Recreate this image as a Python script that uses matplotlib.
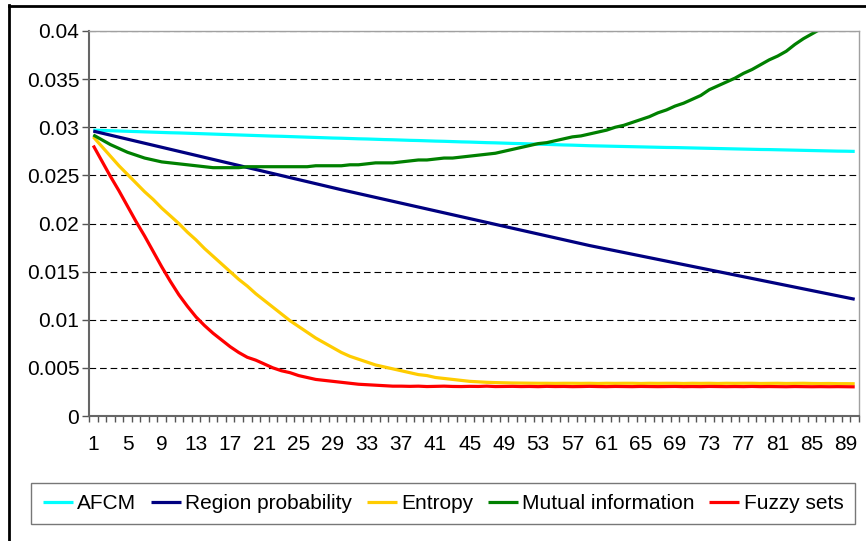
import numpy as np
import matplotlib.pyplot as plt
from matplotlib.lines import Line2D

plt.rcParams['font.family'] = ['Liberation Sans', 'DejaVu Sans']

steps = list(range(1, 91))

afcm = [0.02970, 0.02967, 0.02964, 0.02961, 0.02958, 0.02955, 0.02952, 0.02949, 0.02946, 0.02943,
        0.02941, 0.02938, 0.02935, 0.02932, 0.02929, 0.02926, 0.02923, 0.02920, 0.02917, 0.02914,
        0.02911, 0.02908, 0.02906, 0.02903, 0.02900, 0.02897, 0.02894, 0.02891, 0.02888, 0.02886,
        0.02883, 0.02880, 0.02878, 0.02875, 0.02872, 0.02870, 0.02867, 0.02864, 0.02862, 0.02859,
        0.02856, 0.02854, 0.02851, 0.02848, 0.02846, 0.02843, 0.02840, 0.02838, 0.02835, 0.02832,
        0.02830, 0.02827, 0.02824, 0.02822, 0.02819, 0.02816, 0.02814, 0.02811, 0.02808, 0.02806,
        0.02804, 0.02802, 0.02800, 0.02798, 0.02796, 0.02794, 0.02792, 0.02790, 0.02789, 0.02787,
        0.02785, 0.02783, 0.02781, 0.02779, 0.02777, 0.02775, 0.02773, 0.02771, 0.02769, 0.02768,
        0.02766, 0.02764, 0.02762, 0.02760, 0.02758, 0.02756, 0.02754, 0.02752, 0.02751, 0.02749]

region_prob = [0.02960, 0.02939, 0.02918, 0.02897, 0.02876, 0.02855, 0.02834, 0.02813, 0.02792, 0.02771,
               0.02750, 0.02729, 0.02708, 0.02687, 0.02666, 0.02645, 0.02624, 0.02603, 0.02582, 0.02561,
               0.02540, 0.02519, 0.02498, 0.02477, 0.02456, 0.02435, 0.02414, 0.02393, 0.02372, 0.02351,
               0.02331, 0.02311, 0.02291, 0.02271, 0.02251, 0.02231, 0.02211, 0.02191, 0.02171, 0.02151,
               0.02131, 0.02111, 0.02091, 0.02071, 0.02051, 0.02031, 0.02011, 0.01991, 0.01971, 0.01951,
               0.01931, 0.01911, 0.01891, 0.01871, 0.01851, 0.01831, 0.01811, 0.01791, 0.01771, 0.01753,
               0.01735, 0.01717, 0.01699, 0.01681, 0.01663, 0.01645, 0.01627, 0.01609, 0.01591, 0.01573,
               0.01555, 0.01537, 0.01519, 0.01501, 0.01483, 0.01465, 0.01447, 0.01429, 0.01411, 0.01393,
               0.01375, 0.01357, 0.01339, 0.01321, 0.01303, 0.01285, 0.01267, 0.01249, 0.01231, 0.01213]

entropy = [0.0290, 0.0280, 0.0270, 0.0260, 0.0251, 0.0242, 0.0233, 0.0225, 0.0216, 0.0208,
           0.0200, 0.0191, 0.0183, 0.0174, 0.0166, 0.0158, 0.0150, 0.0142, 0.0135, 0.0127,
           0.0120, 0.0113, 0.0106, 0.0099, 0.0093, 0.0087, 0.0081, 0.0076, 0.0071, 0.0066,
           0.0062, 0.0059, 0.0056, 0.0053, 0.0051, 0.0049, 0.0047, 0.0045, 0.0043, 0.0042,
           0.0040, 0.0039, 0.0038, 0.0037, 0.0036, 0.00355, 0.0035, 0.00347, 0.00345, 0.00343,
           0.00342, 0.00341, 0.0034, 0.0034, 0.00339, 0.0034, 0.0034, 0.00339, 0.0034, 0.00338,
           0.0034, 0.00339, 0.0034, 0.0034, 0.00338, 0.0034, 0.00339, 0.0034, 0.0034, 0.00338,
           0.0034, 0.00339, 0.0034, 0.00338, 0.0034, 0.00339, 0.0034, 0.0034, 0.00338, 0.00339,
           0.0034, 0.00338, 0.00339, 0.0034, 0.00338, 0.00337, 0.00338, 0.00336, 0.00336, 0.00335]

mutual_info = [0.0292, 0.0287, 0.0282, 0.0278, 0.0274, 0.0271, 0.0268, 0.0266, 0.0264, 0.0263,
               0.0262, 0.0261, 0.0260, 0.0259, 0.0258, 0.0258, 0.0258, 0.0258, 0.0259, 0.0259,
               0.0259, 0.0259, 0.0259, 0.0259, 0.0259, 0.0259, 0.0260, 0.0260, 0.0260, 0.0260,
               0.0261, 0.0261, 0.0262, 0.0263, 0.0263, 0.0263, 0.0264, 0.0265, 0.0266, 0.0266,
               0.0267, 0.0268, 0.0268, 0.0269, 0.0270, 0.0271, 0.0272, 0.0273, 0.0275, 0.0277,
               0.0279, 0.0281, 0.0283, 0.0284, 0.0286, 0.0288, 0.0290, 0.0291, 0.0293, 0.0295,
               0.0297, 0.0300, 0.0302, 0.0305, 0.0308, 0.0311, 0.0315, 0.0318, 0.0322, 0.0325,
               0.0329, 0.0333, 0.0339, 0.0343, 0.0347, 0.0351, 0.0356, 0.0360, 0.0365, 0.0370,
               0.0374, 0.0379, 0.0386, 0.0392, 0.0397, 0.0402, 0.0407, 0.0412, 0.0416, 0.0421]

fuzzy = [0.0281, 0.0265, 0.0249, 0.0234, 0.0218, 0.0202, 0.0187, 0.0171, 0.0155, 0.0140,
         0.0126, 0.0114, 0.0103, 0.0094, 0.0086, 0.0079, 0.0072, 0.0066, 0.0061, 0.0058,
         0.0054, 0.0050, 0.0047, 0.0045, 0.0042, 0.0040, 0.0038, 0.0037, 0.0036, 0.0035,
         0.0034, 0.0033, 0.00325, 0.0032, 0.00315, 0.0031, 0.0031, 0.00308, 0.0031, 0.00306,
         0.00308, 0.0031, 0.00307, 0.00306, 0.00308, 0.00307, 0.0031, 0.00306, 0.00307, 0.00308,
         0.00306, 0.00307, 0.00305, 0.00308, 0.00306, 0.00307, 0.00305, 0.00306, 0.00308, 0.00306,
         0.00305, 0.00307, 0.00306, 0.00305, 0.00307, 0.00306, 0.00305, 0.00306, 0.00307, 0.00305,
         0.00306, 0.00305, 0.00307, 0.00306, 0.00305, 0.00306, 0.00305, 0.00307, 0.00305, 0.00306,
         0.00305, 0.00304, 0.00306, 0.00305, 0.00304, 0.00305, 0.00304, 0.00305, 0.00304, 0.00303]

labels = ['AFCM', 'Region probability', 'Entropy', 'Mutual information', 'Fuzzy sets']
colors = ['#00FFFF', '#000080', '#FFCC00', '#008000', '#FF0000']

fig = plt.figure(figsize=(8.66, 5.41), dpi=100)
ax = fig.add_axes([89/866, 1-416/541, 770/866, 385/541])

for ser, lab, col in zip([afcm, region_prob, entropy, mutual_info, fuzzy], labels, colors):
    ax.plot(steps, ser, color=col, lw=2.3, label=lab, solid_capstyle='butt')

ax.set_xlim(0.5, 90.5)
ax.set_ylim(0, 0.04)
ax.set_yticks(np.arange(0, 0.0401, 0.005))
ax.set_yticklabels(['0', '0.005', '0.01', '0.015', '0.02', '0.025', '0.03', '0.035', '0.04'])
ax.yaxis.grid(True, color='black', linestyle=(0, (6, 3.5)), lw=0.8)
ax.set_axisbelow(True)

# category boundaries as ticks, labels every 4th category
ax.set_xticks(np.arange(0.5, 91, 1))
ax.set_xticklabels([])
ax.set_xticks(steps[::4], minor=True)
ax.set_xticklabels([str(s) for s in steps[::4]], minor=True)
ax.tick_params(axis='x', which='major', length=4, width=1, color='#555555', direction='out')
ax.tick_params(axis='x', which='minor', length=0, pad=14, labelsize=15)
ax.tick_params(axis='y', length=5, width=1, color='#555555', pad=2, labelsize=15)

for side in ['top', 'right']:
    ax.spines[side].set_color('#a0a0a0')
    ax.spines[side].set_linewidth(1)
for side in ['left', 'bottom']:
    ax.spines[side].set_color('#666666')
    ax.spines[side].set_linewidth(1.5)

leg = fig.legend(loc='center', bbox_to_anchor=(443/866, 1-503.5/541), ncol=5, fontsize=15,
                 frameon=True, fancybox=False, edgecolor='#555555', handlelength=1.45,
                 handletextpad=0.2, columnspacing=0.7, borderpad=0.55)
leg.get_frame().set_linewidth(1)

# outer chart border (left and top visible)
fig.add_artist(Line2D([8.5/866, 8.5/866], [0, 1-5/541], color='black', lw=2, transform=fig.transFigure))
fig.add_artist(Line2D([8.5/866, 1], [1-5.5/541, 1-5.5/541], color='black', lw=2, transform=fig.transFigure))

plt.savefig('out.png', dpi=100)
